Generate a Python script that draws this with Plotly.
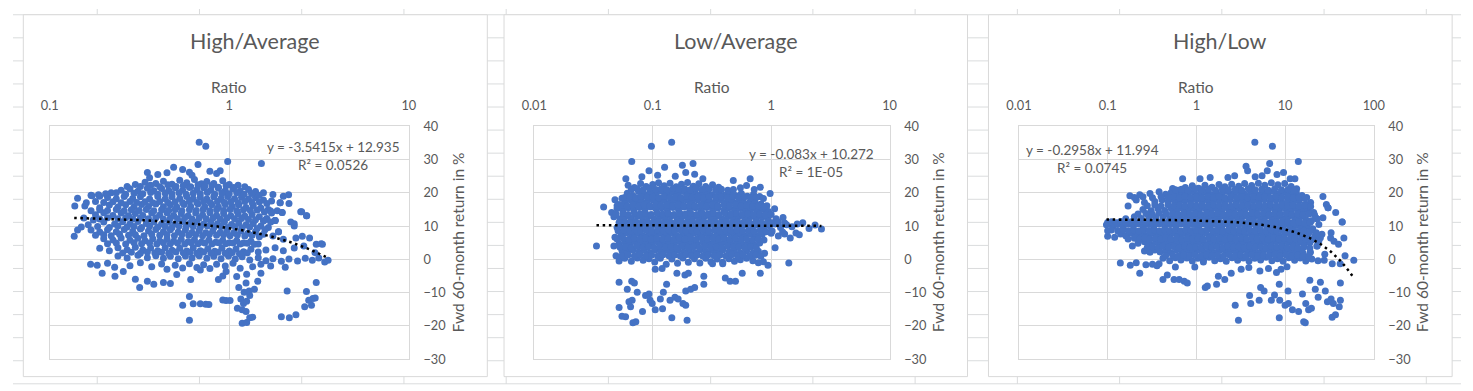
import numpy as np
import plotly.graph_objects as go

# ---------------- data ----------------
# Panel 1: High/Average ratio vs forward 60-month return (%)
high_avg_ratio = [
    0.68, 0.74, 0.98, 1.51, 0.67, 0.89, 0.49, 0.35, 0.36, 0.40, 0.45, 0.55, 0.60, 0.78, 0.85,
    0.30, 0.34, 0.39, 0.43, 0.48, 0.53, 0.58, 0.64, 0.70, 0.75, 0.82, 0.92, 1.00, 1.12, 1.22, 0.27, 0.62,
    0.17, 0.19, 0.22, 0.25, 0.28, 0.31, 0.35, 0.38, 0.42, 0.46, 0.50, 0.55, 0.60, 0.66, 0.72, 0.79, 0.87, 0.95, 1.05, 1.15, 1.28, 1.40, 1.55, 1.75, 2.00, 2.14,
    0.143, 0.172, 0.187, 0.21, 0.235, 0.26, 0.29, 0.32, 0.36, 0.40, 0.44, 0.48, 0.53, 0.58, 0.63, 0.69, 0.75, 0.82, 0.90, 0.98, 1.07, 1.17, 1.28, 1.40, 1.55, 1.72, 1.92, 2.15,
    0.138, 0.157, 0.19, 0.215, 0.24, 0.265, 0.295, 0.325, 0.355, 0.39, 0.43, 0.47, 0.51, 0.56, 0.61, 0.67, 0.73, 0.80, 0.87, 0.95, 1.04, 1.13, 1.24, 1.36, 1.50, 1.65, 1.85, 2.50, 2.70,
    0.18, 0.20, 0.225, 0.25, 0.275, 0.30, 0.33, 0.37, 0.41, 0.45, 0.49, 0.54, 0.59, 0.65, 0.71, 0.78, 0.85, 0.93, 1.02, 1.12, 1.22, 1.34, 1.47, 1.62, 1.80, 1.97,
    0.164, 0.175, 0.20, 0.23, 0.255, 0.28, 0.31, 0.345, 0.38, 0.42, 0.46, 0.50, 0.55, 0.60, 0.66, 0.72, 0.79, 0.86, 0.94, 1.03, 1.13, 1.24, 1.36, 1.50, 1.65, 2.20, 2.30, 1.80,
    0.137, 0.143, 0.17, 0.19, 0.21, 0.235, 0.26, 0.29, 0.32, 0.355, 0.39, 0.43, 0.47, 0.52, 0.57, 0.62, 0.68, 0.74, 0.81, 0.89, 0.97, 1.06, 1.16, 1.27, 1.40, 1.55, 1.75, 1.88,
    0.20, 0.225, 0.25, 0.28, 0.31, 0.34, 0.375, 0.41, 0.45, 0.49, 0.54, 0.59, 0.64, 0.70, 0.77, 0.84, 0.92, 1.00, 1.10, 1.20, 1.32, 1.45, 2.35, 2.55, 2.80, 3.05, 3.25, 2.00,
    0.19, 0.215, 0.24, 0.27, 0.30, 0.33, 0.365, 0.40, 0.44, 0.48, 0.53, 0.58, 0.63, 0.69, 0.76, 0.83, 0.91, 1.00, 1.09, 1.20, 1.32, 1.45, 1.60, 1.80, 2.00, 2.30, 2.60, 3.30, 3.00,
    0.24, 0.27, 0.31, 0.35, 0.39, 0.43, 0.47, 0.52, 0.57, 0.62, 0.68, 0.75, 0.82, 0.90, 0.99, 1.08, 1.18, 1.30, 1.45, 1.60, 1.75, 1.95, 2.15, 2.40, 2.65, 2.90, 3.15, 3.40, 3.55,
    0.169, 0.184, 0.21, 0.23, 0.28, 0.32, 0.37, 0.42, 0.45, 0.50, 0.55, 0.60, 0.66, 0.72, 0.78, 0.85, 0.95, 1.05, 1.15, 1.35, 1.50, 1.70, 2.05,
    0.196, 0.231, 0.257, 0.317, 0.30, 0.35, 0.38, 0.43, 0.47, 0.51, 0.61, 0.69, 0.87, 0.96, 0.92, 1.25, 1.50, 1.10,
    0.60, 0.55, 0.60, 0.63, 0.69, 0.74, 0.77, 0.92, 0.96, 1.01, 1.18, 1.25, 1.11, 1.18, 1.24, 1.30, 1.35, 1.16, 1.21, 1.29, 1.38, 1.44, 1.24, 1.13, 1.20, 1.25, 1.30,
    2.10, 1.95, 2.16, 2.35, 2.69, 3.05, 2.87, 2.77, 2.92, 3.01, 2.63,
    1.92, 1.97, 1.80, 1.88, 2.53, 2.69, 2.30, 1.70, 1.60,
    0.32, 0.365, 0.41, 0.455, 0.505, 0.555, 0.61, 0.67, 0.73, 0.80, 0.87, 0.96, 1.06,
    0.205, 0.235, 0.265, 0.295, 0.33, 0.365, 0.40, 0.44, 0.48, 0.525, 0.575, 0.63, 0.69, 0.755, 0.83, 0.91, 1.00, 1.10, 1.21, 1.33, 1.47,
    0.16, 0.18, 0.20, 0.225, 0.25, 0.28, 0.305, 0.34, 0.375, 0.41, 0.455, 0.50, 0.55, 0.60, 0.66, 0.72, 0.785, 0.86, 0.94, 1.02, 1.12, 1.22, 1.34, 1.47, 1.62,
    0.17, 0.19, 0.21, 0.235, 0.26, 0.285, 0.315, 0.345, 0.38, 0.42, 0.46, 0.50, 0.545, 0.60, 0.655, 0.715, 0.78, 0.85, 0.93, 1.01, 1.10, 1.20, 1.31, 1.43, 1.57, 1.72,
    0.155, 0.19, 0.21, 0.24, 0.265, 0.29, 0.32, 0.355, 0.39, 0.43, 0.47, 0.515, 0.565, 0.62, 0.68, 0.745, 0.815, 0.89, 0.97, 1.07, 1.17, 1.28, 1.40, 1.55, 1.70,
    0.15, 0.185, 0.215, 0.24, 0.27, 0.295, 0.325, 0.36, 0.40, 0.44, 0.48, 0.525, 0.575, 0.63, 0.69, 0.755, 0.825, 0.90, 0.985, 1.08, 1.18, 1.30, 1.43, 1.58,
    0.18, 0.20, 0.22, 0.245, 0.275, 0.30, 0.335, 0.37, 0.41, 0.45, 0.495, 0.545, 0.595, 0.65, 0.71, 0.775, 0.85, 0.93, 1.01, 1.11, 1.22, 1.34, 1.47,
    0.21, 0.235, 0.265, 0.295, 0.325, 0.36, 0.395, 0.43, 0.47, 0.515, 0.565, 0.615, 0.67, 0.73, 0.80, 0.875, 0.955, 1.05, 1.15, 1.26, 1.38,
    0.255, 0.285, 0.32, 0.35, 0.385, 0.42, 0.46, 0.505, 0.555, 0.605, 0.66, 0.72, 0.79, 0.865, 0.95, 1.04, 1.14, 1.26,
]
high_avg_return = [
    35.2, 34.0, 29.4, 28.8, 28.5, 26.6, 27.7, 26.1, 24.5, 25.5, 26.0, 27.0, 26.2, 26.5, 25.8,
    22.5, 23.2, 22.8, 23.5, 22.6, 23.8, 23.0, 24.0, 22.7, 23.4, 22.8, 23.6, 22.5, 22.3, 21.8, 21.9, 25.3,
    19.3, 19.0, 20.0, 20.8, 21.2, 20.5, 21.4, 20.6, 21.3, 20.7, 21.5, 20.8, 21.6, 20.9, 21.5, 20.8, 21.4, 20.6, 21.2, 20.5, 21.0, 20.4, 20.0, 19.5, 19.0, 19.4,
    18.4, 19.1, 19.4, 18.6, 18.2, 18.9, 18.3, 18.8, 18.1, 18.9, 18.2, 18.8, 18.3, 18.9, 18.2, 18.7, 18.1, 18.8, 18.3, 18.9, 18.2, 18.7, 18.1, 18.6, 17.8, 17.5, 17.0, 16.8,
    16.0, 16.0, 15.5, 16.3, 15.7, 16.4, 15.8, 16.5, 15.9, 16.6, 15.8, 16.4, 15.7, 16.5, 15.9, 16.6, 15.8, 16.4, 15.7, 16.5, 15.9, 16.4, 15.6, 16.2, 15.4, 15.0, 14.6, 14.3, 13.1,
    13.4, 14.0, 13.2, 13.9, 13.1, 13.8, 13.2, 13.9, 13.3, 14.0, 13.2, 13.8, 13.1, 13.9, 13.3, 14.0, 13.2, 13.8, 13.1, 13.7, 13.0, 13.5, 12.8, 12.3, 11.7, 14.1,
    10.4, 11.8, 11.2, 10.6, 11.3, 10.7, 11.4, 10.8, 11.2, 10.6, 11.3, 10.7, 11.4, 10.8, 11.2, 10.6, 11.3, 10.7, 11.2, 10.5, 11.0, 10.4, 10.8, 10.0, 9.6, 11.2, 10.7, 11.7,
    6.9, 8.8, 8.8, 8.2, 8.9, 8.3, 9.0, 8.4, 9.1, 8.5, 9.0, 8.3, 8.9, 8.2, 8.8, 8.1, 8.7, 8.0, 8.6, 8.1, 8.7, 8.0, 8.5, 7.8, 8.3, 7.5, 7.0, 8.3,
    6.2, 5.8, 6.4, 5.7, 6.3, 5.6, 6.2, 5.5, 6.1, 5.4, 6.0, 5.3, 5.9, 5.2, 5.8, 5.1, 5.7, 5.0, 5.6, 4.9, 5.4, 4.6, 6.4, 6.9, 6.4, 4.5, 4.7, 6.0,
    3.3, 2.6, 3.5, 2.9, 3.6, 2.8, 3.4, 2.6, 3.5, 2.7, 3.3, 2.5, 3.4, 2.6, 3.2, 2.4, 3.3, 2.5, 3.1, 2.3, 3.0, 2.2, 2.8, 3.5, 2.6, 3.4, 4.0, 4.5, 2.0,
    1.0, 0.4, 1.2, 0.5, 1.1, 0.3, 0.9, 0.2, 1.0, 0.4, 1.1, 0.3, 0.9, 0.2, 1.0, 0.1, 0.8, -0.2, 0.5, -0.4, 0.2, -0.6, 0.1, -0.5, 0.3, -0.3, 0.4, -0.8, -0.3,
    -1.5, -1.8, -1.2, -2.4, -1.9, -1.0, -2.2, -1.4, -3.0, -1.8, -2.6, -1.3, -2.5, -1.6, -2.8, -1.5, -2.0, -1.2, -2.7, -2.2, -1.5, -2.0, -2.4,
    -4.2, -5.1, -3.7, -8.5, -6.0, -6.6, -7.5, -7.0, -7.3, -4.6, -6.1, -3.2, -6.1, -3.7, -5.0, -4.5, -4.2, -5.2,
    -18.3, -13.8, -11.2, -13.4, -13.4, -13.5, -13.6, -12.2, -12.4, -12.4, -19.2, -19.0, -14.7, -15.2, -15.7, -17.6, -17.4, -11.9, -9.9, -9.5, -9.0, -6.6, -7.1, -8.5, -13.3, -12.6, -10.9,
    -9.5, -17.3, -17.6, -16.7, -9.7, -7.0, -13.8, -12.3, -11.8, -11.6, -14.3,
    17.0, 14.1, 11.7, 8.3, 14.3, 13.1, 10.0, 14.5, 12.0,
    21.9, 22.3, 21.8, 22.4, 21.9, 22.2, 21.8, 22.4, 21.9, 22.2, 21.7, 22.1, 21.6,
    19.7, 20.0, 19.6, 19.9, 19.7, 20.1, 19.6, 19.9, 19.7, 20.0, 19.6, 19.9, 19.7, 20.1, 19.6, 19.9, 19.7, 20.0, 19.6, 19.8, 19.3,
    17.0, 17.4, 17.1, 17.3, 17.0, 17.4, 17.1, 17.3, 17.0, 17.4, 17.1, 17.3, 17.0, 17.4, 17.1, 17.3, 17.0, 17.4, 17.1, 17.3, 17.0, 17.4, 17.1, 17.2, 16.8,
    14.6, 14.9, 14.7, 15.0, 14.6, 14.9, 14.7, 15.0, 14.6, 14.9, 14.7, 15.0, 14.6, 14.9, 14.7, 15.0, 14.6, 14.9, 14.7, 15.0, 14.6, 14.9, 14.7, 14.8, 14.2, 13.9,
    12.4, 12.1, 12.5, 12.2, 12.5, 12.1, 12.4, 12.2, 12.5, 12.1, 12.4, 12.2, 12.5, 12.1, 12.4, 12.2, 12.5, 12.1, 12.4, 12.2, 12.3, 12.0, 11.9, 11.5, 11.2,
    9.7, 9.9, 9.6, 10.0, 9.7, 9.9, 9.6, 10.0, 9.7, 9.9, 9.6, 10.0, 9.7, 9.9, 9.6, 10.0, 9.7, 9.9, 9.6, 9.8, 9.5, 9.7, 9.3, 8.9,
    7.2, 7.4, 7.1, 7.5, 7.2, 7.4, 7.1, 7.5, 7.2, 7.4, 7.1, 7.5, 7.2, 7.4, 7.1, 7.5, 7.2, 7.4, 7.1, 7.3, 7.0, 7.2, 6.8,
    4.7, 4.9, 4.6, 5.0, 4.7, 4.9, 4.6, 5.0, 4.7, 4.9, 4.6, 5.0, 4.7, 4.9, 4.6, 5.0, 4.7, 4.9, 4.6, 4.8, 4.5,
    1.9, 2.1, 1.8, 2.2, 1.9, 2.1, 1.8, 2.2, 1.9, 2.1, 1.8, 2.2, 1.9, 2.1, 1.8, 2.0, 1.7, 1.9,
]

# Panel 2: Low/Average ratio
low_avg_ratio = [
    0.0975, 0.1445, 0.0665, 0.219, 0.093, 0.126, 0.178, 0.19, 0.226, 0.265, 0.479, 0.665, 0.0593, 0.081, 0.11, 0.155,
    0.062, 0.07, 0.079, 0.088, 0.1, 0.112, 0.125, 0.14, 0.158, 0.175, 0.197, 0.22, 0.245, 0.28, 0.32, 0.36, 0.55, 0.62, 0.72, 0.81,
    0.055, 0.061, 0.068, 0.076, 0.085, 0.095, 0.106, 0.118, 0.132, 0.147, 0.164, 0.183, 0.204, 0.228, 0.255, 0.285, 0.32, 0.36, 0.40, 0.45, 0.50, 0.56, 0.63, 0.71, 0.80, 0.98,
    0.048, 0.052, 0.058, 0.065, 0.072, 0.08, 0.09, 0.1, 0.112, 0.125, 0.14, 0.156, 0.174, 0.194, 0.216, 0.24, 0.27, 0.30, 0.335, 0.375, 0.42, 0.47, 0.52, 0.58, 0.65, 0.73, 0.82, 0.92,
    0.0385, 0.045, 0.05, 0.056, 0.062, 0.069, 0.077, 0.086, 0.096, 0.107, 0.119, 0.133, 0.148, 0.165, 0.184, 0.205, 0.229, 0.255, 0.285, 0.32, 0.355, 0.40, 0.44, 0.49, 0.55, 0.61, 0.68, 0.76, 0.85, 0.95, 1.07,
    0.047, 0.053, 0.059, 0.066, 0.074, 0.082, 0.092, 0.103, 0.115, 0.128, 0.143, 0.16, 0.178, 0.199, 0.222, 0.248, 0.277, 0.31, 0.345, 0.385, 0.43, 0.48, 0.535, 0.60, 0.67, 0.75, 0.84, 0.94, 1.1, 1.26,
    0.05, 0.056, 0.063, 0.07, 0.078, 0.087, 0.097, 0.108, 0.121, 0.135, 0.151, 0.168, 0.188, 0.21, 0.234, 0.261, 0.29, 0.325, 0.36, 0.40, 0.45, 0.50, 0.56, 0.62, 0.70, 0.78, 0.87, 0.97, 1.08, 1.2, 1.35, 1.5, 1.66, 1.85, 2.09, 2.35, 2.66,
    0.048, 0.054, 0.06, 0.067, 0.075, 0.083, 0.093, 0.104, 0.116, 0.129, 0.144, 0.161, 0.18, 0.2, 0.224, 0.25, 0.28, 0.31, 0.35, 0.39, 0.435, 0.485, 0.54, 0.60, 0.67, 0.75, 0.84, 1.0, 1.15, 1.3, 1.45, 1.62, 1.73,
    0.052, 0.058, 0.064, 0.071, 0.079, 0.088, 0.098, 0.109, 0.122, 0.136, 0.152, 0.17, 0.19, 0.212, 0.237, 0.265, 0.296, 0.33, 0.37, 0.41, 0.46, 0.51, 0.57, 0.64, 0.72, 0.80, 0.0335, 0.047,
    0.049, 0.055, 0.061, 0.068, 0.076, 0.085, 0.095, 0.106, 0.118, 0.131, 0.146, 0.163, 0.182, 0.203, 0.226, 0.252, 0.28, 0.315, 0.35, 0.39, 0.44, 0.49, 0.55, 0.62, 0.70, 0.78, 0.88, 1.08,
    0.052, 0.058, 0.066, 0.074, 0.083, 0.093, 0.104, 0.116, 0.13, 0.145, 0.162, 0.18, 0.2, 0.225, 0.25, 0.28, 0.31, 0.35, 0.39, 0.44, 0.49, 0.55, 0.62, 0.70, 0.78, 0.86, 0.94, 1.41, 0.32, 0.39,
    0.16, 0.187, 0.2, 0.27, 0.27, 0.41, 0.45, 0.50, 0.57, 0.81, 0.12, 0.105,
    0.052, 0.061, 0.0665, 0.070, 0.052, 0.055, 0.059, 0.068, 0.072, 0.063, 0.067, 0.065, 0.074, 0.082, 0.087, 0.093, 0.095, 0.099, 0.105, 0.116, 0.123, 0.131, 0.121, 0.145, 0.14, 0.154, 0.164, 0.18, 0.19, 0.195, 0.19, 0.209, 0.226,
    0.066, 0.074, 0.083, 0.094, 0.106, 0.118, 0.132, 0.149, 0.166, 0.186, 0.208, 0.232, 0.26, 0.30, 0.34, 0.38, 0.43, 0.48,
    0.058, 0.064, 0.072, 0.08, 0.09, 0.1, 0.112, 0.125, 0.14, 0.156, 0.174, 0.194, 0.216, 0.24, 0.27, 0.30, 0.34, 0.38, 0.425, 0.475, 0.53, 0.595, 0.67, 0.75, 0.86,
    0.05, 0.055, 0.061, 0.068, 0.076, 0.085, 0.095, 0.106, 0.118, 0.132, 0.147, 0.164, 0.183, 0.205, 0.228, 0.255, 0.285, 0.32, 0.355, 0.40, 0.445, 0.50, 0.56, 0.62, 0.70, 0.78, 0.87,
    0.049, 0.056, 0.062, 0.07, 0.078, 0.087, 0.097, 0.109, 0.121, 0.135, 0.151, 0.169, 0.189, 0.21, 0.235, 0.262, 0.293, 0.327, 0.365, 0.41, 0.455, 0.51, 0.57, 0.635, 0.71, 0.80, 0.89, 1.0,
    0.052, 0.058, 0.065, 0.072, 0.081, 0.09, 0.1, 0.112, 0.125, 0.14, 0.156, 0.174, 0.194, 0.216, 0.24, 0.27, 0.30, 0.335, 0.375, 0.42, 0.47, 0.52, 0.58, 0.65, 0.73, 0.82, 0.91, 1.02, 1.15, 1.3,
    0.051, 0.057, 0.064, 0.071, 0.079, 0.088, 0.098, 0.11, 0.123, 0.137, 0.153, 0.171, 0.191, 0.213, 0.238, 0.266, 0.297, 0.332, 0.37, 0.415, 0.46, 0.515, 0.575, 0.645, 0.72, 0.81, 0.91, 1.02, 1.25,
    0.05, 0.056, 0.063, 0.07, 0.078, 0.087, 0.097, 0.108, 0.121, 0.135, 0.151, 0.168, 0.188, 0.21, 0.234, 0.261, 0.29, 0.325, 0.36, 0.40, 0.45, 0.50, 0.56, 0.62, 0.70, 0.78, 0.87,
    0.053, 0.059, 0.066, 0.074, 0.083, 0.092, 0.103, 0.115, 0.128, 0.143, 0.16, 0.178, 0.199, 0.222, 0.248, 0.277, 0.31, 0.345, 0.385, 0.43, 0.48, 0.535, 0.60, 0.67, 0.75,
    0.055, 0.062, 0.07, 0.078, 0.088, 0.098, 0.11, 0.122, 0.137, 0.153, 0.171, 0.19, 0.212, 0.237, 0.265, 0.295, 0.33, 0.37, 0.415, 0.465, 0.52, 0.58, 0.66, 0.74, 0.82,
]
low_avg_return = [
    34.0, 35.2, 29.4, 28.8, 26.6, 27.7, 28.3, 26.1, 25.6, 24.2, 23.7, 24.2, 24.2, 24.8, 25.3, 25.0,
    22.3, 21.6, 22.8, 21.9, 22.5, 23.0, 22.1, 22.9, 21.8, 22.6, 23.1, 22.0, 22.7, 21.9, 22.4, 21.7, 21.5, 22.2, 21.0, 21.7,
    18.4, 19.9, 19.2, 20.4, 19.6, 20.2, 19.5, 20.5, 19.8, 20.3, 19.6, 20.4, 19.7, 20.2, 19.5, 20.1, 19.4, 20.0, 19.3, 19.9, 19.2, 19.8, 19.0, 19.6, 18.9, 19.8,
    17.9, 16.5, 17.2, 17.8, 17.1, 17.7, 17.3, 17.9, 17.2, 17.8, 17.1, 17.7, 17.2, 17.8, 17.3, 17.9, 17.1, 17.7, 17.2, 17.8, 17.1, 17.6, 17.0, 17.5, 16.9, 17.4, 16.6, 16.1,
    15.7, 14.1, 15.3, 14.8, 15.5, 14.9, 15.6, 15.0, 15.7, 15.1, 15.5, 14.9, 15.6, 15.0, 15.7, 15.1, 15.5, 14.9, 15.6, 15.0, 15.4, 14.8, 15.5, 14.9, 15.3, 14.7, 15.2, 14.6, 15.1, 14.4, 15.2,
    12.8, 12.2, 12.9, 12.3, 13.0, 12.4, 12.9, 12.2, 12.8, 12.3, 13.0, 12.4, 12.9, 12.2, 12.8, 12.3, 13.0, 12.4, 12.9, 12.2, 12.8, 12.3, 12.9, 12.4, 12.8, 12.2, 12.7, 12.0, 12.2, 12.6,
    9.6, 10.2, 9.7, 10.4, 9.8, 10.3, 9.6, 10.4, 9.9, 10.3, 9.7, 10.4, 9.8, 10.2, 9.6, 10.3, 9.9, 10.4, 9.7, 10.2, 9.8, 10.4, 9.6, 10.3, 9.9, 10.2, 9.7, 10.1, 10.6, 9.6, 10.4, 9.8, 10.6, 11.0, 9.3, 10.3, 9.1,
    6.6, 7.4, 7.9, 7.2, 7.8, 7.1, 7.7, 7.3, 7.9, 7.2, 7.8, 7.1, 7.7, 7.3, 7.9, 7.2, 7.8, 7.1, 7.6, 7.3, 7.9, 7.2, 7.7, 7.0, 7.6, 7.1, 7.5, 7.8, 7.0, 7.6, 6.4, 7.9, 7.4,
    4.6, 5.2, 4.7, 5.3, 4.8, 5.1, 4.6, 5.3, 4.8, 5.2, 4.7, 5.3, 4.9, 5.1, 4.6, 5.2, 4.8, 5.3, 4.7, 5.1, 4.6, 5.2, 4.5, 5.0, 4.4, 4.9, 4.0, 4.0,
    1.1, 2.6, 2.1, 2.8, 2.2, 2.7, 2.0, 2.9, 2.3, 2.7, 2.1, 2.8, 2.2, 2.6, 2.0, 2.9, 2.3, 2.7, 2.1, 2.8, 2.2, 2.6, 2.0, 2.5, 1.9, 2.4, 1.8, 3.5,
    -0.5, 0.3, -0.6, 0.4, -0.3, 0.2, -0.8, 0.3, -1.5, 0.1, -1.2, 0.4, -0.9, 0.2, -1.1, 0.3, -0.7, 0.1, -0.9, 0.2, -0.6, -0.1, 0.3, -0.4, -1.0, -0.7, -1.8, -1.1, -1.3, -1.3,
    -4.2, -4.7, -4.2, -5.1, -7.5, -5.6, -6.6, -6.6, -4.2, -4.2, -2.8, -3.0,
    -6.9, -9.0, -6.6, -7.1, -14.5, -17.1, -17.3, -19.1, -18.8, -12.8, -12.3, -14.3, -9.9, -15.7, -10.9, -10.4, -12.3, -13.3, -15.2, -11.9, -9.9, -7.5, -14.9, -17.6, -12.3, -11.4, -11.9, -13.3, -13.8, -18.3, -9.5, -9.0, -8.5,
    21.0, 21.2, 20.9, 21.3, 21.0, 21.2, 20.9, 21.3, 21.0, 21.2, 20.9, 21.3, 21.0, 21.2, 20.9, 21.1, 20.8, 21.0,
    18.6, 18.8, 18.5, 18.9, 18.6, 18.8, 18.5, 18.9, 18.6, 18.8, 18.5, 18.9, 18.6, 18.8, 18.5, 18.9, 18.6, 18.8, 18.5, 18.9, 18.6, 18.8, 18.5, 18.7, 18.3,
    16.1, 16.3, 16.0, 16.4, 16.1, 16.3, 16.0, 16.4, 16.1, 16.3, 16.0, 16.4, 16.1, 16.3, 16.0, 16.4, 16.1, 16.3, 16.0, 16.4, 16.1, 16.3, 16.0, 16.2, 15.9, 16.1, 15.8,
    13.6, 13.8, 13.5, 13.9, 13.6, 13.8, 13.5, 13.9, 13.6, 13.8, 13.5, 13.9, 13.6, 13.8, 13.5, 13.9, 13.6, 13.8, 13.5, 13.9, 13.6, 13.8, 13.5, 13.7, 13.4, 13.6, 13.3, 13.5,
    11.1, 11.3, 11.0, 11.4, 11.1, 11.3, 11.0, 11.4, 11.1, 11.3, 11.0, 11.4, 11.1, 11.3, 11.0, 11.4, 11.1, 11.3, 11.0, 11.4, 11.1, 11.3, 11.0, 11.2, 10.9, 11.1, 10.8, 11.0, 11.3, 10.9,
    8.6, 8.8, 8.5, 8.9, 8.6, 8.8, 8.5, 8.9, 8.6, 8.8, 8.5, 8.9, 8.6, 8.8, 8.5, 8.9, 8.6, 8.8, 8.5, 8.9, 8.6, 8.8, 8.5, 8.7, 8.4, 8.6, 8.3, 8.5, 8.2,
    6.1, 6.3, 6.0, 6.4, 6.1, 6.3, 6.0, 6.4, 6.1, 6.3, 6.0, 6.4, 6.1, 6.3, 6.0, 6.4, 6.1, 6.3, 6.0, 6.4, 6.1, 6.3, 6.0, 6.2, 5.9, 6.1, 5.8,
    3.6, 3.8, 3.5, 3.9, 3.6, 3.8, 3.5, 3.9, 3.6, 3.8, 3.5, 3.9, 3.6, 3.8, 3.5, 3.9, 3.6, 3.8, 3.5, 3.9, 3.6, 3.8, 3.5, 3.7, 3.4,
    1.1, 1.3, 1.0, 1.4, 1.1, 1.3, 1.0, 1.4, 1.1, 1.3, 1.0, 1.4, 1.1, 1.3, 1.0, 1.4, 1.1, 1.3, 1.0, 1.4, 1.1, 1.3, 1.0, 1.2, 0.9,
]

# Panel 3: High/Low ratio
high_low_ratio = [
    4.56, 7.2, 14.1, 6.7, 3.63, 3.78, 2.7, 2.27, 1.43, 1.1, 0.70, 5.5, 6.3, 9.6, 11.4, 12.9, 4.6, 8.1,
    0.54, 0.63, 0.75, 0.9, 1.06, 1.25, 1.5, 1.8, 2.1, 2.5, 3.0, 3.5, 4.2, 5.0, 5.9, 7.0, 8.3, 9.9, 11.7, 13.5,
    0.178, 0.23, 0.30, 0.38, 0.45, 0.52, 0.6, 0.69, 0.8, 0.93, 1.08, 1.25, 1.45, 1.68, 1.95, 2.26, 2.62, 3.04, 3.5, 4.1, 4.75, 5.5, 6.4, 7.4, 8.6, 10.0, 11.6, 13.4, 15.5, 17.5, 26.7,
    0.17, 0.21, 0.26, 0.34, 0.41, 0.48, 0.56, 0.64, 0.74, 0.86, 1.0, 1.16, 1.34, 1.55, 1.8, 2.08, 2.41, 2.8, 3.24, 3.75, 4.35, 5.05, 5.85, 6.8, 7.9, 9.2, 10.7, 12.4, 14.4, 16.7, 19.4, 29.2,
    0.25, 0.31, 0.37, 0.44, 0.52, 0.6, 0.69, 0.8, 0.93, 1.08, 1.25, 1.45, 1.68, 1.95, 2.26, 2.62, 3.04, 3.5, 4.1, 4.75, 5.5, 6.4, 7.4, 8.6, 10.0, 11.6, 13.4, 15.5, 18.0, 21.0, 30.5, 37.2,
    0.16, 0.2, 0.24, 0.29, 0.35, 0.42, 0.5, 0.58, 0.67, 0.78, 0.9, 1.04, 1.2, 1.39, 1.61, 1.87, 2.17, 2.52, 2.92, 3.38, 3.92, 4.55, 5.3, 6.1, 7.1, 8.2, 9.5, 11.0, 12.8, 14.8, 17.1, 19.8, 22.9, 44.0,
    0.097, 0.104, 0.115, 0.13, 0.15, 0.17, 0.195, 0.22, 0.25, 0.29, 0.33, 0.38, 0.44, 0.51, 0.59, 0.68, 0.79, 0.92, 1.06, 1.23, 1.43, 1.66, 1.93, 2.24, 2.6, 3.0, 3.5, 4.05, 4.7, 5.45, 6.3, 7.3, 8.5, 9.8, 11.4, 13.2, 15.3, 17.7, 20.5, 24.0,
    0.10, 0.12, 0.14, 0.16, 0.185, 0.21, 0.24, 0.275, 0.315, 0.36, 0.41, 0.47, 0.54, 0.62, 0.71, 0.82, 0.95, 1.1, 1.27, 1.47, 1.7, 1.97, 2.28, 2.64, 3.06, 3.55, 4.1, 4.75, 5.5, 6.4, 7.4, 8.6, 10.0, 11.6, 13.4, 15.6, 18.0, 21.5, 26.0,
    0.19, 0.22, 0.26, 0.3, 0.35, 0.4, 0.46, 0.53, 0.61, 0.7, 0.81, 0.93, 1.07, 1.24, 1.43, 1.65, 1.9, 2.2, 2.54, 2.93, 3.38, 3.9, 4.5, 5.2, 6.0, 6.95, 8.0, 9.3, 10.7, 12.4, 14.3, 16.5, 19.0, 22.9, 32.6, 35.6, 46.0,
    0.26, 0.30, 0.34, 0.39, 0.45, 0.52, 0.6, 0.69, 0.79, 0.91, 1.05, 1.21, 1.4, 1.61, 1.86, 2.14, 2.47, 2.85, 3.29, 3.8, 4.38, 5.05, 5.8, 6.7, 7.7, 8.9, 10.3, 11.9, 13.7, 15.8, 19.2, 47.4,
    0.42, 0.5, 0.58, 0.67, 0.78, 0.9, 1.04, 1.2, 1.39, 1.61, 1.87, 2.17, 2.52, 2.92, 3.38, 3.92, 4.55, 5.3, 6.1, 7.1, 8.2, 9.5, 11.0, 12.8, 14.8, 17.1, 20.0, 23.5, 27.6, 34.0, 41.8, 59.5, 1.2, 0.96,
    0.139, 0.18, 0.23, 0.32, 0.38, 0.42, 0.56, 0.64, 0.73, 0.79, 0.47, 0.58, 0.21, 0.27, 0.36,
    1.26, 1.33, 1.69, 2.09, 1.77, 2.47, 3.2, 3.9, 5.2, 6.5, 8.0, 9.0, 10.5,
    2.74, 2.98, 3.98, 4.1, 5.1, 5.3, 5.8, 7.0, 7.6, 8.6, 8.6, 8.7, 10.0, 10.9, 10.8, 12.1, 14.2, 15.7, 16.9, 16.2, 17.1, 18.4, 19.8, 19.0, 21.9, 25.0, 23.6, 28.4, 30.0, 33.0, 33.9, 37.0, 42.0, 35.0, 40.8, 42.0,
    30.5, 44.0, 26.7, 22.9, 19.2, 22.9, 19.0, 17.5, 33.0, 40.0, 28.0, 25.0,
    0.58, 0.68, 0.8, 0.97, 1.15, 1.37, 1.64, 1.95, 2.3, 2.75, 3.25, 3.85, 4.6, 5.45, 6.45, 7.65, 9.1, 10.8, 12.6,
    0.2, 0.25, 0.32, 0.4, 0.48, 0.56, 0.645, 0.745, 0.865, 1.0, 1.16, 1.35, 1.56, 1.81, 2.1, 2.44, 2.83, 3.27, 3.8, 4.4, 5.1, 5.9, 6.85, 7.95, 9.2, 10.7, 12.4, 14.4, 16.6,
    0.28, 0.34, 0.4, 0.48, 0.56, 0.645, 0.745, 0.865, 1.0, 1.16, 1.35, 1.56, 1.81, 2.1, 2.44, 2.83, 3.27, 3.8, 4.4, 5.1, 5.9, 6.85, 7.95, 9.2, 10.7, 12.4, 14.4, 16.7, 19.4,
    0.22, 0.27, 0.32, 0.38, 0.46, 0.54, 0.625, 0.72, 0.84, 0.97, 1.12, 1.3, 1.5, 1.74, 2.02, 2.34, 2.72, 3.15, 3.65, 4.22, 4.9, 5.7, 6.6, 7.65, 8.85, 10.3, 11.9, 13.8, 16.0, 18.5, 21.5,
    0.1, 0.11, 0.125, 0.14, 0.16, 0.185, 0.21, 0.235, 0.27, 0.31, 0.355, 0.41, 0.47, 0.545, 0.63, 0.73, 0.85, 0.99, 1.14, 1.33, 1.54, 1.79, 2.08, 2.42, 2.8, 3.25, 3.78, 4.38, 5.08, 5.9, 6.85, 7.95, 9.2, 10.7, 12.4, 14.4, 16.6, 19.2,
    0.1, 0.11, 0.13, 0.15, 0.172, 0.197, 0.225, 0.258, 0.295, 0.338, 0.385, 0.44, 0.505, 0.58, 0.665, 0.76, 0.875, 1.0, 1.15, 1.32, 1.52, 1.75, 2.0, 2.3, 2.65, 3.05, 3.5, 4.0, 4.6, 5.3, 6.1, 7.0, 8.05, 9.25, 10.6, 12.2, 14.0, 16.2, 19.0, 22.5,
    0.17, 0.2, 0.23, 0.265, 0.3, 0.345, 0.395, 0.455, 0.52, 0.6, 0.69, 0.79, 0.91, 1.05, 1.2, 1.38, 1.59, 1.83, 2.1, 2.42, 2.78, 3.2, 3.68, 4.23, 4.87, 5.6, 6.45, 7.4, 8.5, 9.8, 11.3, 13.0, 15.0, 17.2, 20.0, 24.0,
    0.28, 0.32, 0.37, 0.42, 0.485, 0.56, 0.64, 0.74, 0.85, 0.98, 1.13, 1.3, 1.5, 1.72, 1.98, 2.28, 2.62, 3.02, 3.48, 4.0, 4.6, 5.3, 6.1, 7.0, 8.05, 9.25, 10.6, 12.2, 14.0, 16.2, 19.0,
    0.45, 0.54, 0.625, 0.72, 0.84, 0.97, 1.12, 1.3, 1.5, 1.74, 2.02, 2.34, 2.72, 3.15, 3.65, 4.22, 4.9, 5.7, 6.6, 7.65, 8.85, 10.3, 11.9, 13.8, 16.0, 18.5,
]
high_low_return = [
    35.2, 34.0, 29.4, 28.8, 28.0, 26.6, 25.1, 24.6, 24.6, 24.2, 24.2, 25.1, 26.6, 26.1, 24.2, 24.2, 24.8, 25.5,
    21.3, 20.8, 21.6, 22.1, 21.4, 22.3, 21.7, 22.5, 21.8, 22.6, 22.0, 22.8, 22.2, 22.9, 22.3, 23.0, 22.4, 22.8, 21.9, 21.2,
    19.1, 19.4, 19.8, 20.3, 19.6, 20.1, 19.5, 20.2, 19.7, 20.3, 19.6, 20.2, 19.5, 20.1, 19.8, 20.4, 19.7, 20.3, 19.6, 20.2, 19.5, 20.1, 19.8, 20.4, 19.7, 20.2, 19.6, 20.0, 19.2, 18.6, 18.9,
    16.0, 17.8, 17.1, 17.4, 17.9, 17.2, 17.8, 17.1, 17.7, 17.3, 17.9, 17.2, 17.8, 17.1, 17.7, 17.3, 17.9, 17.2, 17.8, 17.1, 17.7, 17.3, 17.9, 17.2, 17.8, 17.1, 17.6, 17.2, 17.5, 16.5, 17.1, 16.5,
    15.0, 14.6, 15.2, 14.7, 15.3, 14.8, 15.4, 14.9, 15.3, 14.8, 15.4, 14.9, 15.3, 14.7, 15.4, 14.9, 15.3, 14.8, 15.4, 14.9, 15.3, 14.8, 15.4, 14.9, 15.3, 14.7, 15.2, 14.6, 14.8, 14.1, 15.5, 14.1,
    12.2, 12.8, 12.3, 12.9, 12.4, 12.8, 12.2, 12.9, 12.3, 12.8, 12.2, 12.9, 12.4, 12.8, 12.2, 12.9, 12.3, 12.8, 12.2, 12.9, 12.4, 12.8, 12.2, 12.9, 12.3, 12.8, 12.2, 12.9, 12.4, 12.8, 12.0, 11.6, 12.2, 11.2,
    10.4, 10.8, 9.9, 10.5, 9.8, 10.6, 10.0, 10.7, 9.8, 10.5, 9.9, 10.6, 10.0, 10.5, 9.8, 10.6, 9.9, 10.5, 9.8, 10.6, 10.0, 10.5, 9.9, 10.6, 9.8, 10.5, 9.9, 10.6, 10.0, 10.5, 9.8, 10.6, 9.9, 10.4, 9.7, 10.2, 9.6, 9.9, 9.2, 10.5,
    6.9, 6.6, 7.6, 7.1, 7.8, 7.2, 7.7, 7.1, 7.8, 7.3, 7.7, 7.2, 7.9, 7.1, 7.8, 7.2, 7.7, 7.3, 7.9, 7.1, 7.8, 7.2, 7.7, 7.3, 7.9, 7.1, 7.8, 7.2, 7.7, 7.3, 7.9, 7.1, 7.8, 7.2, 7.6, 7.0, 7.4, 6.8, 7.5,
    4.0, 4.8, 5.3, 4.7, 5.2, 4.6, 5.3, 4.8, 5.2, 4.7, 5.3, 4.8, 5.2, 4.6, 5.3, 4.8, 5.2, 4.7, 5.3, 4.8, 5.2, 4.6, 5.3, 4.8, 5.2, 4.7, 5.3, 4.8, 5.2, 4.6, 5.1, 4.7, 5.0, 4.0, 6.4, 5.4, 6.4,
    2.5, 2.1, 2.8, 2.2, 2.7, 2.0, 2.9, 2.3, 2.7, 2.1, 2.8, 2.2, 2.6, 2.0, 2.9, 2.3, 2.7, 2.1, 2.8, 2.2, 2.6, 2.0, 2.9, 2.3, 2.7, 2.1, 2.8, 2.2, 2.6, 2.0, 2.1, 1.1,
    0.3, -0.4, 0.5, -0.2, 0.4, -0.5, 0.3, -0.3, 0.6, -0.4, 0.2, -0.6, 0.5, -0.3, 0.4, -0.5, 0.3, -0.2, 0.6, -0.4, 0.2, -0.6, 0.5, -0.3, 0.4, -0.5, 0.1, -0.4, -0.3, -1.3, -1.3, -0.3, -0.8, -2.3,
    -1.1, -1.8, -4.2, -1.5, -1.3, -6.1, -6.1, -6.1, -6.6, -7.1, -4.7, -2.3, -1.0, -1.6, -1.9,
    -8.5, -8.0, -7.5, -6.1, -5.1, -4.2, -3.0, -2.5, -3.5, -2.8, -4.0, -3.0, -2.2,
    -13.8, -18.3, -10.9, -13.3, -12.3, -8.5, -9.5, -12.3, -10.7, -7.5, -17.6, -12.3, -13.8, -13.3, -9.5, -15.2, -15.7, -10.4, -19.1, -18.8, -13.3, -15.2, -14.7, -6.3, -9.0, -6.9, -11.4, -9.5, -12.8, -11.9, -17.4, -16.7, -7.1, -13.3, -14.3, -12.3,
    15.5, 11.2, 12.5, 4.0, 2.1, 12.2, 14.1, 16.5, 8.0, 4.5, 1.5, 6.5,
    20.9, 21.1, 20.8, 21.2, 20.9, 21.1, 20.8, 21.2, 20.9, 21.1, 20.8, 21.2, 20.9, 21.1, 20.8, 21.2, 20.9, 21.0, 20.7,
    18.6, 18.8, 18.5, 18.9, 18.6, 18.8, 18.5, 18.9, 18.6, 18.8, 18.5, 18.9, 18.6, 18.8, 18.5, 18.9, 18.6, 18.8, 18.5, 18.9, 18.6, 18.8, 18.5, 18.9, 18.6, 18.8, 18.5, 18.7, 18.4,
    16.1, 16.3, 16.0, 16.4, 16.1, 16.3, 16.0, 16.4, 16.1, 16.3, 16.0, 16.4, 16.1, 16.3, 16.0, 16.4, 16.1, 16.3, 16.0, 16.4, 16.1, 16.3, 16.0, 16.4, 16.1, 16.3, 16.0, 16.2, 15.9,
    13.6, 13.8, 13.5, 13.9, 13.6, 13.8, 13.5, 13.9, 13.6, 13.8, 13.5, 13.9, 13.6, 13.8, 13.5, 13.9, 13.6, 13.8, 13.5, 13.9, 13.6, 13.8, 13.5, 13.9, 13.6, 13.8, 13.5, 13.7, 13.4, 13.6, 13.3,
    11.1, 11.3, 11.0, 11.4, 11.1, 11.3, 11.0, 11.4, 11.1, 11.3, 11.0, 11.4, 11.1, 11.3, 11.0, 11.4, 11.1, 11.3, 11.0, 11.4, 11.1, 11.3, 11.0, 11.4, 11.1, 11.3, 11.0, 11.4, 11.1, 11.3, 11.0, 11.4, 11.1, 11.3, 11.0, 11.2, 10.9, 11.1,
    8.6, 8.8, 8.5, 8.9, 8.6, 8.8, 8.5, 8.9, 8.6, 8.8, 8.5, 8.9, 8.6, 8.8, 8.5, 8.9, 8.6, 8.8, 8.5, 8.9, 8.6, 8.8, 8.5, 8.9, 8.6, 8.8, 8.5, 8.9, 8.6, 8.8, 8.5, 8.9, 8.6, 8.8, 8.5, 8.7, 8.4, 8.6, 8.3, 8.0,
    6.1, 6.3, 6.0, 6.4, 6.1, 6.3, 6.0, 6.4, 6.1, 6.3, 6.0, 6.4, 6.1, 6.3, 6.0, 6.4, 6.1, 6.3, 6.0, 6.4, 6.1, 6.3, 6.0, 6.4, 6.1, 6.3, 6.0, 6.4, 6.1, 6.3, 6.0, 6.2, 5.9, 6.1, 5.8, 5.5,
    3.6, 3.8, 3.5, 3.9, 3.6, 3.8, 3.5, 3.9, 3.6, 3.8, 3.5, 3.9, 3.6, 3.8, 3.5, 3.9, 3.6, 3.8, 3.5, 3.9, 3.6, 3.8, 3.5, 3.9, 3.6, 3.8, 3.5, 3.7, 3.4, 3.6, 3.3,
    1.1, 1.3, 1.0, 1.4, 1.1, 1.3, 1.0, 1.4, 1.1, 1.3, 1.0, 1.4, 1.1, 1.3, 1.0, 1.4, 1.1, 1.3, 1.0, 1.4, 1.1, 1.3, 1.0, 1.2, 0.9, 1.1,
]

chart_titles = ["High/Average", "Low/Average", "High/Low"]
trend_slopes = [-3.5415, -0.083, -0.2958]
trend_intercepts = [12.935, 10.272, 11.994]
trend_labels = ["y = -3.5415x + 12.935", "y = -0.083x + 10.272", "y = -0.2958x + 11.994"]
r2_labels = ["R² = 0.0526", "R² = 1E-05", "R² = 0.0745"]
x_tickvals = [[0.1, 1, 10], [0.01, 0.1, 1, 10], [0.01, 0.1, 1, 10, 100]]
x_ticktext = [["0.1", "1", "10"], ["0.01", "0.1", "1", "10"], ["0.01", "0.1", "1", "10", "100"]]
x_log_ranges = [[-1, 1], [-2, 1], [-2, 2]]
y_ticks = [-30, -20, -10, 0, 10, 20, 30, 40]

series_x = [high_avg_ratio, low_avg_ratio, high_low_ratio]
series_y = [high_avg_return, low_avg_return, high_low_return]
for sx, sy in zip(series_x, series_y):
    assert len(sx) == len(sy), (len(sx), len(sy))

# ---------------- layout geometry (pixels) ----------------
W, H = 1473, 391
FONT = "Lato, 'Liberation Sans', sans-serif"
TXT = "#595959"
GRID = "#d9d9d9"
BLUE = "#4472C4"

panels = [(10.5, 482.5), (499.5, 971.0), (992.3, 1464.0)]
plot_x = [(37.3, 402.7), (530.3, 891.7), (1023.3, 1384.3)]
plot_top, plot_bot = 122.3, 365.0
eq_pos = [(326, 144, 163), (812, 151, 170), (1098, 147, 166)]
ytitle_x = [452.5, 940.5, 1433.0]


def px(x):
    return x / W


def py(y):
    return 1 - y / H


fig = go.Figure()
shapes = []
# Excel sheet grid behind the charts
for k in range(17):
    yy = 6 + 24.05 * k
    shapes.append(dict(type="line", xref="paper", yref="paper", x0=0, x1=1, y0=py(yy), y1=py(yy),
                       line=dict(color="#dadcdd", width=1), layer="below"))
for k in range(14):
    xx = 85.7 + 104.0 * k
    shapes.append(dict(type="line", xref="paper", yref="paper", x0=px(xx), x1=px(xx), y0=0, y1=1,
                       line=dict(color="#dadcdd", width=1), layer="below"))
for (l, r) in panels:
    shapes.append(dict(type="rect", xref="paper", yref="paper", x0=px(l), x1=px(r), y0=py(383.3), y1=py(6),
                       fillcolor="white", line=dict(color=GRID, width=1), layer="below"))

annotations = []
for i in range(3):
    xa = "x" if i == 0 else f"x{i+1}"
    ya = "y" if i == 0 else f"y{i+1}"
    sx, sy = series_x[i], series_y[i]
    fig.add_trace(go.Scatter(x=sx, y=sy, mode="markers", xaxis=xa, yaxis=ya,
                             marker=dict(size=7, color=BLUE, line=dict(width=0)),
                             showlegend=False, hoverinfo="x+y"))
    xmin, xmax = min(sx), max(sx)
    tx = np.logspace(np.log10(xmin), np.log10(xmax), 300)
    ty = trend_slopes[i] * tx + trend_intercepts[i]
    fig.add_trace(go.Scatter(x=tx, y=ty, mode="lines", xaxis=xa, yaxis=ya,
                             line=dict(color="black", width=2.5, dash="2.5px,3.7px"),
                             showlegend=False, hoverinfo="skip"))

    l, r = plot_x[i]
    lo, hi = x_log_ranges[i]
    xkey = "xaxis" if i == 0 else f"xaxis{i+1}"
    ykey = "yaxis" if i == 0 else f"yaxis{i+1}"
    fig.update_layout(**{
        xkey: dict(domain=[px(l), px(r)], type="log", range=[lo - 1e-6, hi + 1e-6], side="top",
                   anchor=ya, tickvals=x_tickvals[i], ticktext=x_ticktext[i],
                   showgrid=True, gridcolor=GRID, gridwidth=1, showline=True, linecolor=GRID,
                   mirror=True, ticks="outside", ticklen=10, tickcolor="rgba(0,0,0,0)",
                   tickfont=dict(family=FONT, size=12.8, color=TXT), zeroline=False),
        ykey: dict(domain=[py(plot_bot), py(plot_top)], range=[-30, 40], tickvals=y_ticks,
                   side="right", anchor=xa, showgrid=True, gridcolor=GRID, gridwidth=1,
                   showline=True, linecolor=GRID, mirror=True, ticks="outside", ticklen=11,
                   tickcolor="rgba(0,0,0,0)", tickfont=dict(family=FONT, size=12.8, color=TXT),
                   zeroline=False),
    })

    pl, pr = panels[i]
    annotations.append(dict(xref="paper", yref="paper", x=px((pl + pr) / 2), y=py(33),
                            text=chart_titles[i], showarrow=False, xanchor="center", yanchor="middle",
                            font=dict(family=FONT, size=21.5, color=TXT)))
    annotations.append(dict(xref="paper", yref="paper", x=px((l + r) / 2), y=py(81),
                            text="Ratio", showarrow=False, xanchor="center", yanchor="middle",
                            font=dict(family=FONT, size=15.5, color=TXT)))
    annotations.append(dict(xref="paper", yref="paper", x=px(ytitle_x[i]), y=py((plot_top + plot_bot) / 2),
                            text="Fwd 60-month return in %", textangle=-90, showarrow=False,
                            xanchor="center", yanchor="middle",
                            font=dict(family=FONT, size=15.5, color=TXT)))
    ex, ey1, ey2 = eq_pos[i]
    annotations.append(dict(xref="paper", yref="paper", x=px(ex), y=py(ey1), text=trend_labels[i],
                            showarrow=False, xanchor="center", yanchor="middle",
                            font=dict(family=FONT, size=13.5, color=TXT)))
    annotations.append(dict(xref="paper", yref="paper", x=px(ex), y=py(ey2), text=r2_labels[i],
                            showarrow=False, xanchor="center", yanchor="middle",
                            font=dict(family=FONT, size=13.5, color=TXT)))

fig.update_layout(width=W, height=H, margin=dict(l=0, r=0, t=0, b=0),
                  paper_bgcolor="white", plot_bgcolor="rgba(0,0,0,0)",
                  shapes=shapes, annotations=annotations, showlegend=False,
                  font=dict(family=FONT, color=TXT))
fig.write_html("out.html", config={"displayModeBar": False},
               post_script="document.body.style.margin='0';document.body.style.overflow='hidden';")
